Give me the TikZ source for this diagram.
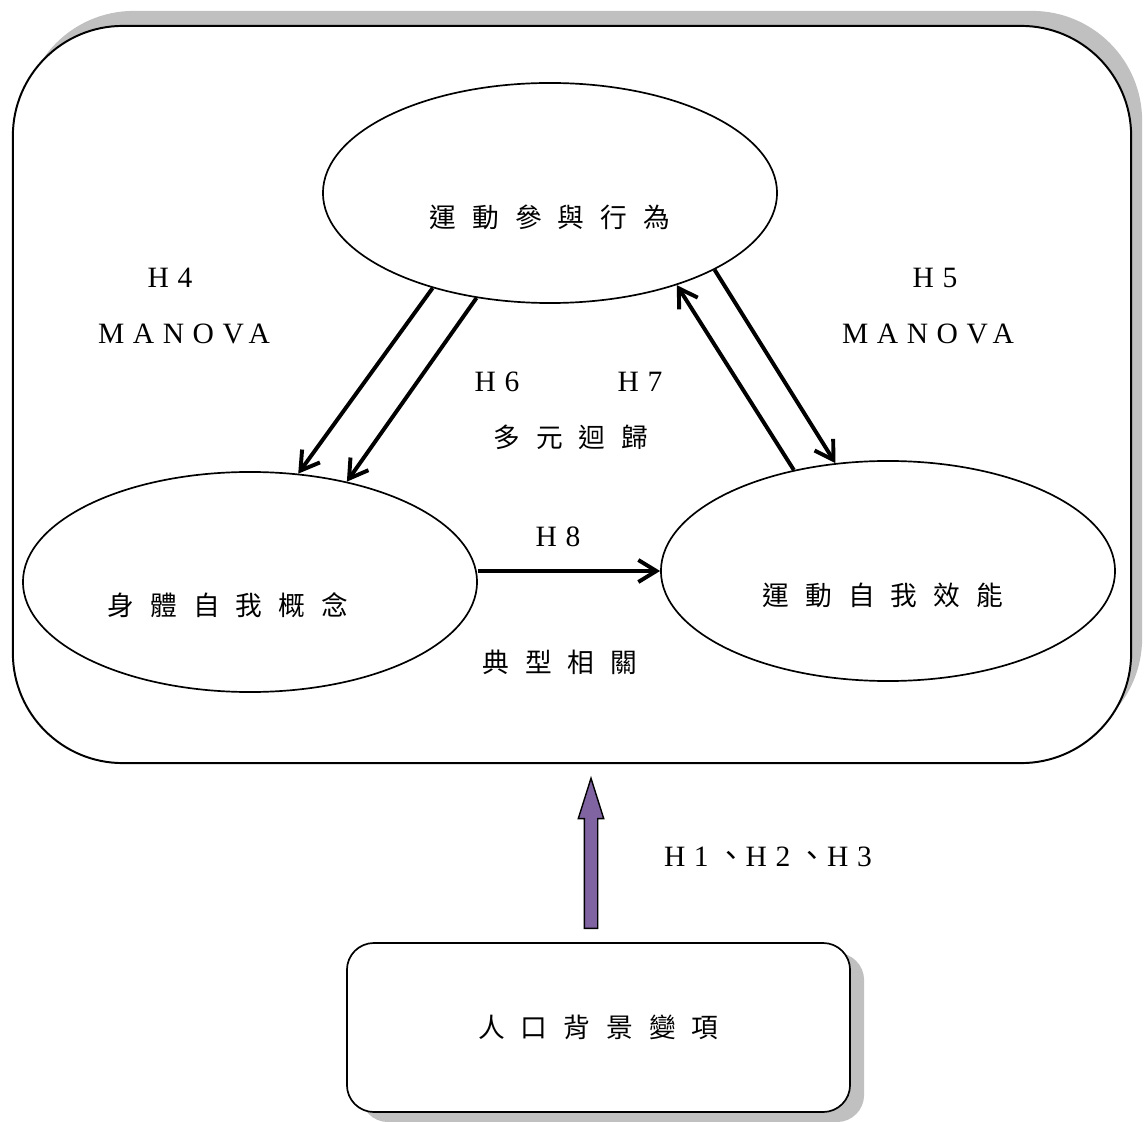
\documentclass[tikz,border=0pt]{standalone}
\usepackage{fontspec}
\setmainfont{Liberation Serif}
\newfontfamily\cjk{Noto Sans CJK TC}[LetterSpace=60]
\newfontfamily\spacedrm{Liberation Serif}[LetterSpace=29]
\usetikzlibrary{shapes.geometric, shapes.arrows, shadows, arrows.meta, positioning}
\definecolor{shadowgray}{RGB}{192,192,192}
\definecolor{blockpurple}{RGB}{128,100,162}
\tikzstyle{frame} = [rectangle, draw=black, line width=1.4pt, fill=white, rounded corners=2.75cm, minimum width=27.95cm, minimum height=18.425cm, drop shadow={shadow xshift=0.275cm, shadow yshift=0.375cm, fill=shadowgray, opacity=1}]
\tikzstyle{smallbox} = [rectangle, draw=black, line width=1.2pt, fill=white, rounded corners=0.675cm, minimum width=12.575cm, minimum height=4.225cm, drop shadow={shadow xshift=0.35cm, shadow yshift=-0.25cm, fill=shadowgray, opacity=1}, font=\cjk\fontsize{19pt}{22pt}\selectfont]
\tikzstyle{construct} = [ellipse, draw=black, line width=1.2pt, fill=white, minimum width=11.35cm, minimum height=5.5cm]
\tikzstyle{cjklabel} = [font=\cjk\fontsize{19pt}{22pt}\selectfont, inner sep=0pt]
\tikzstyle{hyp} = [font=\spacedrm\fontsize{21pt}{24pt}\selectfont, inner sep=0pt]
\tikzstyle{link} = [-{Straight Barb[length=0.45cm, width=0.55cm]}, line width=2.8pt]

\begin{document}
\begin{tikzpicture}[x=0.025cm, y=-0.025cm]
		\useasboundingbox (0,0) rectangle (1145,1122);
		\node (Frame)[frame] at (572,394.5) {};
		\node (Sport)[construct] at (550,193) {};
		\node (Body)[construct] at (250,582) {};
		\node (Efficacy)[construct] at (888,571) {};
		\node (Sport text)[cjklabel] at ([yshift=-0.6cm]Sport.center) {運動參與行為};
		\node (Body text)[cjklabel] at ([xshift=-0.55cm, yshift=-0.575cm]Body.center) {身體自我概念};
		\node (Efficacy text)[cjklabel] at ([xshift=-0.125cm, yshift=-0.6cm]Efficacy.center) {運動自我效能};
		\node (H4)[hyp] at (170,278) {H4};
		\node (MANOVA left)[hyp] at (184,334) {MANOVA};
		\node (H5)[hyp] at (935,278) {H5};
		\node (MANOVA right)[hyp] at (928,334) {MANOVA};
		\node (H6)[hyp] at (497,382) {H6};
		\node (H7)[hyp] at (640,382) {H7};
		\node (Regression)[cjklabel] at (571,437) {多元迴歸};
		\node (H8)[hyp] at (558,537) {H8};
		\node (Canonical)[cjklabel] at (560,662) {典型相關};
		\node (H123)[hyp] at (768,857) {H1\hspace{0.25em}{\cjk 、}H2\hspace{0.25em}{\cjk 、}H3};
		\node (Background)[smallbox] at (598.5,1027.5) {人口背景變項};
		\node (Block arrow)[single arrow, draw=black, line width=1pt, fill=blockpurple, rotate=90, minimum height=3.75cm, minimum width=0.6cm, single arrow head extend=0.15cm, single arrow tip angle=35, inner sep=0.15cm, anchor=tail] at (591,929) {};
		\draw [link] (Sport.219) -- (Body.66);
		\draw [link] (Sport.235) -- (Body.46.5);
		\draw [link] (Efficacy.133) -- (Sport.324);
		\draw [link] (Sport.335) -- (Efficacy.116);
		\draw [link] (Efficacy.west -| Body.east) -- (Efficacy.west);
	\end{tikzpicture}
\end{document}
